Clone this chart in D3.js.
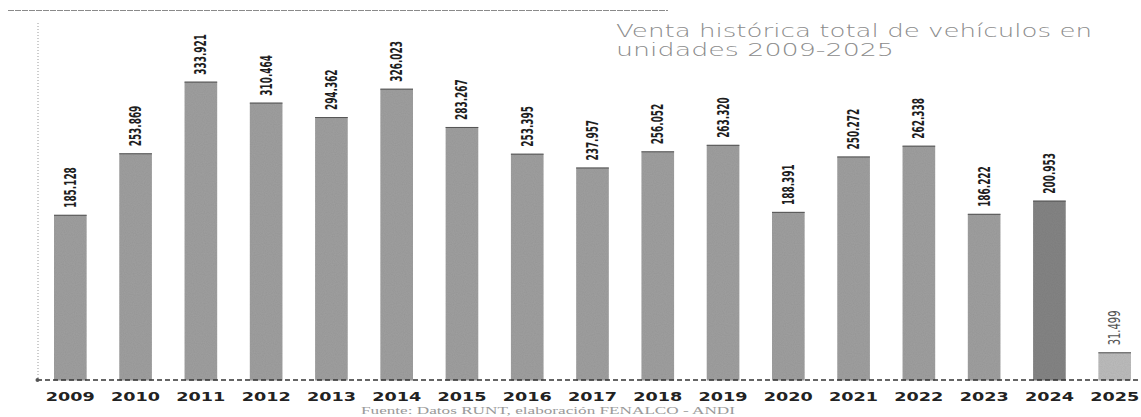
<!DOCTYPE html>
<html>
<head>
<meta charset="utf-8">
<script src="https://cdn.jsdelivr.net/npm/d3@7"></script>
<style>
  html, body { margin: 0; padding: 0; background: #fff; }
  svg { display: block; }
</style>
</head>
<body>
<svg id="chart" width="1141" height="417"></svg>
<script>
const years = ["2009","2010","2011","2012","2013","2014","2015","2016","2017","2018","2019","2020","2021","2022","2023","2024","2025"];
const sales = [185128, 253869, 333921, 310464, 294362, 326023, 283267, 253395, 237957, 256052, 263320, 188391, 250272, 262338, 186222, 200953, 31499];
const valueLabels = ["185.128","253.869","333.921","310.464","294.362","326.023","283.267","253.395","237.957","256.052","263.320","188.391","250.272","262.338","186.222","200.953","31.499"];
const titleLines = ["Venta histórica total de vehículos en", "unidades 2009-2025"];
const sourceText = "Fuente: Datos RUNT, elaboración FENALCO - ANDI";

const svg = d3.select("#chart");

// noise texture filter to mimic the scanned look
const defs = svg.append("defs");
const f = defs.append("filter").attr("id", "grain").attr("x", 0).attr("y", 0).attr("width", 1).attr("height", 1);
f.append("feTurbulence").attr("type", "fractalNoise").attr("baseFrequency", 0.9).attr("numOctaves", 1).attr("seed", 3).attr("result", "noise");
f.append("feColorMatrix").attr("in", "noise").attr("type", "matrix")
  .attr("values", "0 0 0 0 0  0 0 0 0 0  0 0 0 0 0  0 0 0 0.15 0").attr("result", "dark");
f.append("feComposite").attr("in", "dark").attr("in2", "SourceGraphic").attr("operator", "in").attr("result", "darkIn");
f.append("feMerge").selectAll("feMergeNode").data(["SourceGraphic", "darkIn"]).join("feMergeNode").attr("in", d => d);

const x = d3.scaleBand().domain(years).range([54, 1131]).paddingInner(0.5).paddingOuter(0);
const y = d3.scaleLinear().domain([0, 400000]).range([380.5, 22.5]);

// top border line (scan)
svg.append("line").attr("x1", 8).attr("x2", 668).attr("y1", 10.5).attr("y2", 10.5)
  .attr("stroke", "#8a8a8a").attr("stroke-width", 1.2).attr("stroke-dasharray", "6,1");

// y axis (dotted vertical line, no ticks)
const yAxis = d3.axisLeft(y).tickValues([]).tickSizeOuter(0);
const gy = svg.append("g").attr("transform", "translate(37.5,0)").call(yAxis);
gy.select(".domain").attr("stroke", "#9a9a9a").attr("stroke-dasharray", "1,2");

// bars
const barColor = (d, i) => years[i] === "2024" ? "#858585" : years[i] === "2025" ? "#bdbdbd" : "#a0a0a0";
svg.append("g").selectAll("rect").data(sales).join("rect")
  .attr("x", (d, i) => x(years[i]))
  .attr("y", d => y(d))
  .attr("width", x.bandwidth())
  .attr("height", d => y(0) - y(d))
  .attr("fill", barColor)
  .attr("filter", "url(#grain)");
// darker top edges
svg.append("g").selectAll("line").data(sales).join("line")
  .attr("x1", (d, i) => x(years[i]))
  .attr("x2", (d, i) => x(years[i]) + x.bandwidth())
  .attr("y1", d => y(d) + 0.5).attr("y2", d => y(d) + 0.5)
  .attr("stroke", "#555").attr("stroke-width", 1);

// value labels
svg.append("g").selectAll("text").data(sales).join("text")
  .attr("transform", (d, i) => `translate(${x(years[i]) + x.bandwidth() / 2 + 5.5},${y(d) - 7}) rotate(-90)`)
  .attr("font-family", "'DejaVu Sans Condensed', 'DejaVu Sans', sans-serif")
  .attr("font-weight", (d, i) => years[i] === "2025" ? "normal" : "bold")
  .attr("font-size", 15.5)
  .attr("fill", (d, i) => years[i] === "2025" ? "#555" : "#1e1e1e")
  .attr("textLength", (d, i) => valueLabels[i].length * 5.8)
  .attr("lengthAdjust", "spacingAndGlyphs")
  .text((d, i) => valueLabels[i]);

// x axis with dashed baseline
const xAxis = d3.axisBottom(x).tickSize(0).tickSizeOuter(0).tickPadding(0);
const gx = svg.append("g").attr("transform", "translate(0,380)").call(xAxis);
gx.select(".domain").remove();
gx.selectAll("text")
  .attr("y", 21)
  .attr("dy", 0)
  .attr("font-family", "'DejaVu Sans', Verdana, sans-serif")
  .attr("font-weight", "bold")
  .attr("font-size", 12.5)
  .attr("fill", "#222")
  .attr("textLength", 49)
  .attr("lengthAdjust", "spacingAndGlyphs");
svg.append("line").attr("x1", 37).attr("x2", 1141).attr("y1", 380).attr("y2", 380)
  .attr("stroke", "#333").attr("stroke-width", 1.3).attr("stroke-dasharray", "5,3");
svg.append("circle").attr("cx", 37.5).attr("cy", 380).attr("r", 2).attr("fill", "#555");

// title
const title = svg.append("g");
title.selectAll("text").data(titleLines).join("text")
  .attr("x", 616)
  .attr("y", (d, i) => 37 + i * 19)
  .attr("font-family", "'DejaVu Sans', Verdana, sans-serif")
  .attr("font-weight", 300)
  .attr("font-size", 18)
  .attr("fill", "#8c8c8c")
  .attr("textLength", (d, i) => i === 0 ? 476 : 278)
  .attr("lengthAdjust", "spacingAndGlyphs")
  .text(d => d);

// source
svg.append("text")
  .attr("x", 361).attr("y", 414)
  .attr("font-family", "'Liberation Serif', 'DejaVu Serif', serif")
  .attr("font-size", 11)
  .attr("fill", "#9a9a9a")
  .attr("textLength", 374)
  .attr("lengthAdjust", "spacingAndGlyphs")
  .text(sourceText);
</script>
</body>
</html>
